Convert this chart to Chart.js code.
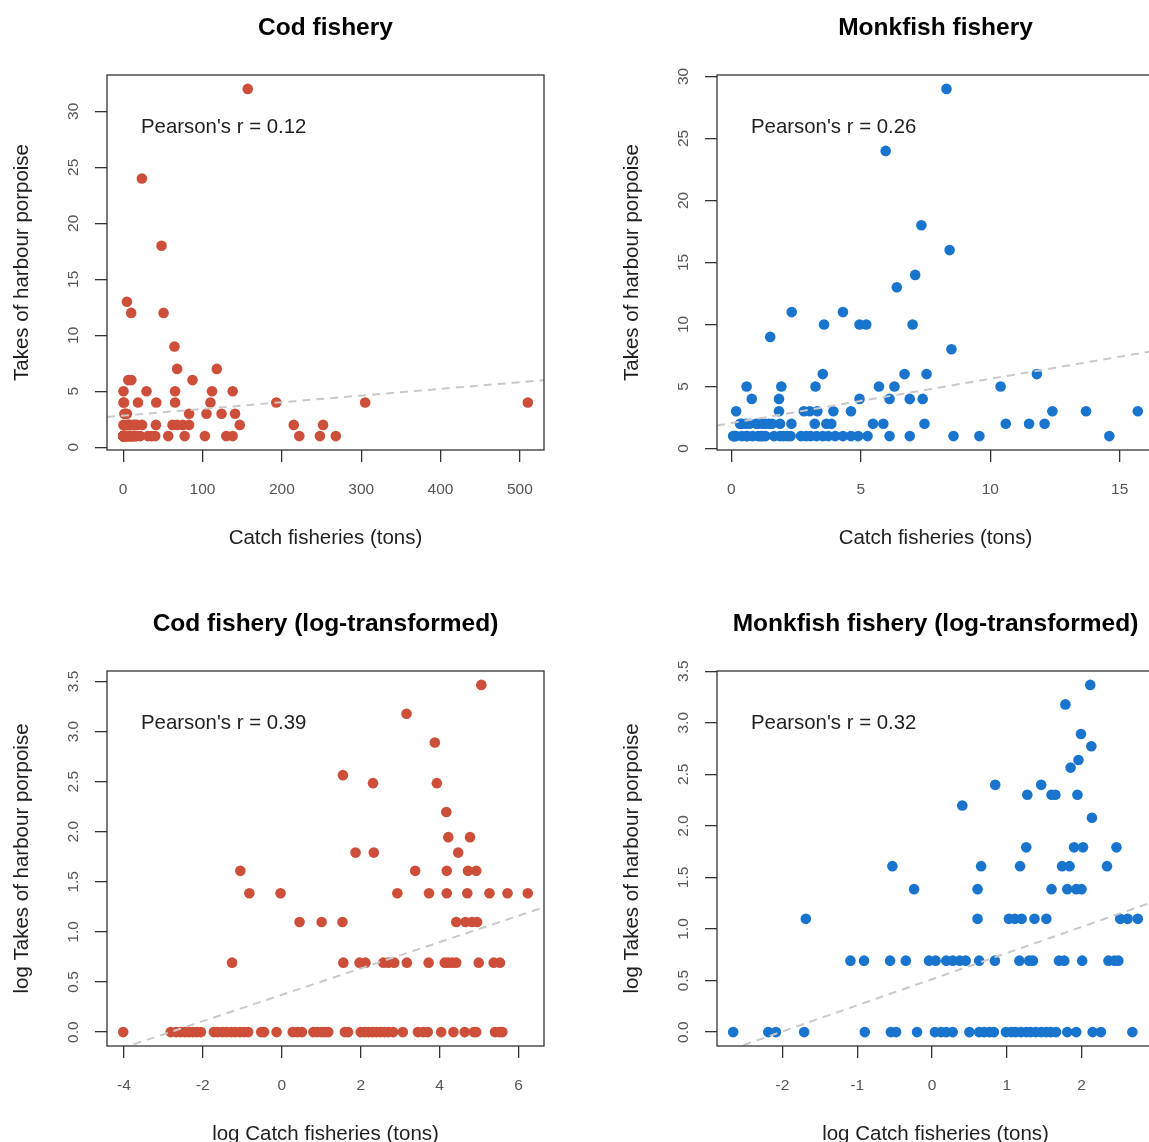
<!DOCTYPE html>
<html>
<head>
<meta charset="utf-8">
<title>Harbour porpoise takes vs. catch</title>
<script src="https://cdn.jsdelivr.net/npm/chart.js@4.4.1/dist/chart.umd.min.js"></script>
<style>
  html, body { margin: 0; padding: 0; background: #fff; overflow: hidden; width: 1149px; height: 1142px; }
  canvas.panel { position: absolute; }
</style>
</head>
<body>
<canvas class="panel" id="codRaw" width="610" height="596" style="left:0;top:0"></canvas>
<canvas class="panel" id="monkRaw" width="610" height="596" style="left:610px;top:0"></canvas>
<canvas class="panel" id="codLog" width="610" height="596" style="left:0;top:596px"></canvas>
<canvas class="panel" id="monkLog" width="610" height="596" style="left:610px;top:596px"></canvas>
<script>
// Cod fishery: catch per record (tons) and harbour porpoise takes, grouped by takes
const codCatch = [
  0.018, 0.060, 0.069, 0.077, 0.086, 0.095, 0.105, 0.116, 0.129, 0.179, 0.198, 0.223, 0.247,
  0.278, 0.307, 0.346, 0.387, 0.427, 0.595, 0.638, 0.878, 1.32, 1.49, 1.67, 2.23, 2.46, 2.75,
  3.00, 3.25, 4.95, 5.37, 7.39, 8.17, 9.03, 9.97, 11.0, 12.2, 13.5, 14.9, 16.8, 21.5, 31.5,
  35.9, 40.4, 56.8, 77.5, 103, 130, 138, 222, 248, 268,
  0.284, 4.76, 7.17, 8.33, 13.1, 14.9, 17.3, 23.8, 41.3, 62.2, 68.0, 75.2, 83.1, 147, 215, 252,
  1.57, 2.75, 4.66, 83.1, 105, 124, 141,
  0.440, 0.970, 18.7, 41.7, 65.4, 110, 193, 305, 510,
  0.350, 29.4, 65.4, 112, 138,
  6.49, 10.3, 87.4,
  68.0, 118,
  64.7,
  10.1, 50.9,
  4.71,
  48.4,
  23.6,
  157
];
const codTakes = [
  1, 1, 1, 1, 1, 1, 1, 1, 1, 1, 1, 1, 1,
  1, 1, 1, 1, 1, 1, 1, 1, 1, 1, 1, 1, 1, 1,
  1, 1, 1, 1, 1, 1, 1, 1, 1, 1, 1, 1, 1, 1, 1,
  1, 1, 1, 1, 1, 1, 1, 1, 1, 1,
  2, 2, 2, 2, 2, 2, 2, 2, 2, 2, 2, 2, 2, 2, 2, 2,
  3, 3, 3, 3, 3, 3, 3,
  4, 4, 4, 4, 4, 4, 4, 4, 4,
  5, 5, 5, 5, 5,
  6, 6, 6,
  7, 7,
  9,
  12, 12,
  13,
  18,
  24,
  32
];

// Monkfish fishery: catch per record (tons) and harbour porpoise takes, grouped by takes
const monkCatch = [
  0.070, 0.112, 0.124, 0.181, 0.407, 0.577, 0.619, 0.819, 1.04, 1.13, 1.21, 1.32, 1.65, 1.88,
  2.01, 2.16, 2.29, 2.69, 2.89, 3.06, 3.29, 3.53, 3.74, 4.01, 4.31, 4.62, 4.90, 5.26, 6.11,
  6.89, 8.58, 9.58, 14.6,
  0.336, 0.403, 0.571, 0.705, 0.961, 1.05, 1.21, 1.32, 1.45, 1.57, 1.88, 2.32, 3.22, 3.67,
  3.86, 5.47, 5.87, 7.46, 10.6, 11.5, 12.1,
  0.185, 1.84, 2.80, 3.03, 3.32, 3.94, 4.62, 12.4, 13.7, 15.7,
  0.787, 1.84, 4.95, 6.11, 6.89, 7.39,
  0.589, 1.93, 3.25, 5.70, 6.30, 10.4,
  3.53, 6.69, 7.54, 11.8,
  8.50,
  1.50,
  3.58, 4.95, 5.21, 7.00,
  2.33, 4.31,
  6.39,
  7.10,
  8.43,
  7.34,
  5.96,
  8.31
];
const monkTakes = [
  1, 1, 1, 1, 1, 1, 1, 1, 1, 1, 1, 1, 1, 1,
  1, 1, 1, 1, 1, 1, 1, 1, 1, 1, 1, 1, 1, 1, 1,
  1, 1, 1, 1,
  2, 2, 2, 2, 2, 2, 2, 2, 2, 2, 2, 2, 2, 2,
  2, 2, 2, 2, 2, 2, 2,
  3, 3, 3, 3, 3, 3, 3, 3, 3, 3,
  4, 4, 4, 4, 4, 4,
  5, 5, 5, 5, 5, 5,
  6, 6, 6, 6,
  8,
  9,
  10, 10, 10, 10,
  11, 11,
  13,
  14,
  16,
  18,
  24,
  29
];

// Fitted regression lines: [intercept, slope]
const codFit = [2.83, 0.00597];
const monkFit = [2.05, 0.357];
const codLogFit = [0.372, 0.1316];
const monkLogFit = [0.513, 0.2535];

// Correlation notes
const pearsonR = { cod: '0.12', monk: '0.26', codLog: '0.39', monkLog: '0.32' };

// Tick values
const codXTicks = [0, 100, 200, 300, 400, 500];
const monkXTicks = [0, 5, 10, 15];
const rawYTicks = [0, 5, 10, 15, 20, 25, 30];
const codLogXTicks = [-4, -2, 0, 2, 4, 6];
const monkLogXTicks = [-2, -1, 0, 1, 2];
const logYTicks = [0, 0.5, 1, 1.5, 2, 2.5, 3, 3.5];

const codColor = '#CD4F39';
const monkColor = '#1874CD';
const FONT = "'Liberation Sans', Arial, Helvetica, sans-serif";

Chart.defaults.font.family = FONT;

// Axis limits padded by 4% of the data range on each side
function paddedRange(vals) {
  const lo = Math.min(...vals), hi = Math.max(...vals), pad = (hi - lo) * 0.04;
  return [lo - pad, hi + pad];
}

// Box, titles, correlation note and rotated y tick labels
const panelText = {
  id: 'panelText',
  afterDraw(chart, args, o) {
    const { ctx, chartArea: a, scales } = chart;
    const cx = (a.left + a.right) / 2, cy = (a.top + a.bottom) / 2;
    ctx.save();
    ctx.strokeStyle = '#333';
    ctx.lineWidth = 1.3;
    ctx.strokeRect(a.left, a.top, a.right - a.left, a.bottom - a.top);

    ctx.fillStyle = '#000';
    ctx.textBaseline = 'alphabetic';
    ctx.textAlign = 'center';
    ctx.font = 'bold 24.5px ' + FONT;
    ctx.fillText(o.title, cx, 35);

    ctx.fillStyle = '#1f1f1f';
    ctx.font = '20.4px ' + FONT;
    ctx.textAlign = 'left';
    ctx.fillText(o.note, a.left + 34, a.top + 58);

    ctx.font = '20.5px ' + FONT;
    ctx.textAlign = 'center';
    ctx.fillText(o.xTitle, cx, 544);

    ctx.save();
    ctx.translate(28, cy);
    ctx.rotate(-Math.PI / 2);
    ctx.fillText(o.yTitle, 0, 0);
    ctx.restore();

    const ys = scales.y;
    ctx.fillStyle = '#555';
    ctx.font = '15.5px ' + FONT;
    ys.ticks.forEach(t => {
      ctx.save();
      ctx.translate(77.5, ys.getPixelForValue(t.value));
      ctx.rotate(-Math.PI / 2);
      ctx.textAlign = 'center';
      ctx.fillText(o.yFmt(t.value), 0, 0);
      ctx.restore();
    });
    ctx.restore();
  }
};

function axisCommon(range, tickVals) {
  return {
    type: 'linear',
    min: range[0],
    max: range[1],
    afterBuildTicks: s => { s.ticks = tickVals.map(v => ({ value: v })); },
    grid: { display: true, drawOnChartArea: false, drawTicks: true, tickLength: 12, color: '#333', lineWidth: 1.3 },
    border: { display: false }
  };
}

function makePanel(id, p) {
  const pts = p.x.map((x, i) => ({ x: x, y: p.y[i] }));
  const xr = paddedRange(p.x), yr = paddedRange(p.y);
  const fitLine = xr.map(x => ({ x: x, y: p.fit[0] + p.fit[1] * x }));
  new Chart(document.getElementById(id), {
    type: 'scatter',
    data: {
      datasets: [
        { type: 'line', data: fitLine, borderColor: '#c9c9c9', borderWidth: 2, borderDash: [8, 6],
          pointRadius: 0, fill: false, order: 0 },
        { data: pts, backgroundColor: p.color, borderWidth: 0, pointRadius: 5.3, pointHoverRadius: 5.3, order: 1 }
      ]
    },
    options: {
      responsive: false,
      animation: false,
      devicePixelRatio: 1,
      events: [],
      layout: { padding: { left: 0, top: 75, right: 66, bottom: 0 } },
      plugins: {
        legend: { display: false },
        tooltip: { enabled: false },
        title: { display: false },
        panelText: { title: p.title, note: p.note, xTitle: p.xTitle, yTitle: p.yTitle, yFmt: p.yFmt }
      },
      scales: {
        x: Object.assign(axisCommon(xr, p.xTicks), {
          position: 'bottom',
          afterFit: s => { s.height = 146; },
          ticks: { autoSkip: false, maxRotation: 0, minRotation: 0, padding: 18, color: '#555',
                   font: { size: 15.5 }, callback: v => String(v) }
        }),
        y: Object.assign(axisCommon(yr, p.yTicks), {
          position: 'left',
          afterFit: s => { s.width = 107; },
          ticks: { display: false }
        })
      }
    },
    plugins: [panelText]
  });
}

const intFmt = v => String(v);
const oneDec = v => v.toFixed(1);

makePanel('codRaw', {
  x: codCatch, y: codTakes, fit: codFit, color: codColor,
  xTicks: codXTicks, yTicks: rawYTicks, yFmt: intFmt,
  title: 'Cod fishery', note: "Pearson's r = " + pearsonR.cod,
  xTitle: 'Catch fisheries (tons)', yTitle: 'Takes of harbour porpoise'
});
makePanel('monkRaw', {
  x: monkCatch, y: monkTakes, fit: monkFit, color: monkColor,
  xTicks: monkXTicks, yTicks: rawYTicks, yFmt: intFmt,
  title: 'Monkfish fishery', note: "Pearson's r = " + pearsonR.monk,
  xTitle: 'Catch fisheries (tons)', yTitle: 'Takes of harbour porpoise'
});
makePanel('codLog', {
  x: codCatch.map(Math.log), y: codTakes.map(Math.log), fit: codLogFit, color: codColor,
  xTicks: codLogXTicks, yTicks: logYTicks, yFmt: oneDec,
  title: 'Cod fishery (log-transformed)', note: "Pearson's r = " + pearsonR.codLog,
  xTitle: 'log Catch fisheries (tons)', yTitle: 'log Takes of harbour porpoise'
});
makePanel('monkLog', {
  x: monkCatch.map(Math.log), y: monkTakes.map(Math.log), fit: monkLogFit, color: monkColor,
  xTicks: monkLogXTicks, yTicks: logYTicks, yFmt: oneDec,
  title: 'Monkfish fishery (log-transformed)', note: "Pearson's r = " + pearsonR.monkLog,
  xTitle: 'log Catch fisheries (tons)', yTitle: 'log Takes of harbour porpoise'
});
</script>
</body>
</html>
